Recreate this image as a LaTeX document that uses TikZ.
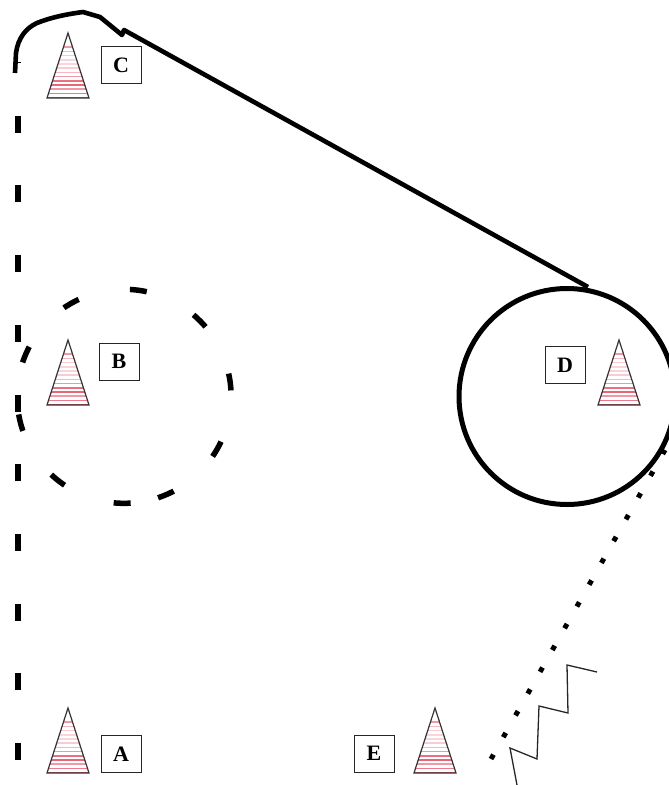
\documentclass[tikz,border=0pt]{standalone}
\usepackage{fontspec}
\setmainfont{Liberation Serif}
\definecolor{hatchred}{RGB}{225,50,75}
\tikzset{
  labelbox/.style={draw=black!85,line width=1pt,fill=white,inner sep=0pt,minimum width=40pt,minimum height=37pt,font=\fontsize{22}{24}\selectfont\bfseries},
  conefill/.style={draw=hatchred,line width=1.6pt},
  coneedge/.style={draw=black!80,line width=1.2pt,line join=miter},
  solidlink/.style={draw=black,line width=4.6pt,line join=round},
  dashlink/.style={draw=black,line width=5.5pt,dash pattern=on 17pt off 52.7pt},
  dotlink/.style={draw=black,line width=5pt,dash pattern=on 5pt off 20pt},
  zigzag/.style={draw=black!85,line width=1.3pt,line join=miter},
}
\newcommand{\conemark}[3]{%
  \coordinate (#1) at (#2,#3);
  \begin{scope}
    \clip (#2,#3) -- ++(-21,65) -- ++(42,0) -- cycle;
    \foreach \k/\o in {1/0.5,2/0.35,3/0.25,4/0.2,5/0.2,6/0.25,7/0.35,8/0.5,9/0.7,10/0.75,11/0.5,12/0.65,13/0.8}{\draw[conefill,opacity=\o] (#2-22,{#3+10+4.2*\k}) -- (#2+22,{#3+10+4.2*\k});}
  \end{scope}
  \draw[coneedge] (#2,#3) -- ++(-21,65) -- ++(42,0) -- cycle;
}
\begin{document}
\begin{tikzpicture}[x=1pt,y=-1pt]
\useasboundingbox (0,0) rectangle (669,785);
\clip (0,0) rectangle (669,785);
\conemark{coneC}{68}{33}
\conemark{coneB}{68}{340}
\conemark{coneD}{619}{340}
\conemark{coneA}{68}{708}
\conemark{coneE}{435}{708}
\node[labelbox] (C) at (121,65) {C};
\node[labelbox] (B) at (119,361.5) {B};
\node[labelbox] (D) at (565,365) {D};
\node[labelbox] (A) at (121,754) {A};
\node[labelbox] (E) at (374,753.5) {E};
% A to C dashed
\coordinate (ac1) at (18,760);
\coordinate (ac2) at (18,62);
\draw[dashlink] (ac1) -- (ac2);
% loop round B
\node[circle,minimum size=214pt,inner sep=0pt,outer sep=0pt] (loopB) at (125,396) {};
\draw[line width=5.5pt,draw=black,dash pattern=on 17pt off 52.7pt] (loopB.288.5) arc[start angle=288.5,delta angle=360,radius=107pt];
% C to D
\coordinate (cd0) at (15,73);
\coordinate (cd1) at (16,53);
\coordinate (cd2) at (37,23);
\coordinate (cd3) at (83,12);
\coordinate (cd4) at (100,17);
\coordinate (cd5) at (122,35);
\coordinate (cd6) at (124,30);
\coordinate (cd7) at (588,287);
\draw[solidlink] (cd0) -- (cd1) .. controls (18,38) and (26,28) .. (cd2) .. controls (52,17) and (68,14) .. (cd3) -- (cd4) -- (cd5) -- (cd6) -- (cd7);
% loop round D
\node[circle,draw=black,line width=5pt,minimum size=216pt,inner sep=0pt,outer sep=0pt] (loopD) at (567,396.5) {};
% D to E dotted
\coordinate (de1) at (491,759);
\coordinate (de2) at (665,450);
\draw[dotlink] (de1) -- (de2);
% zigzag
\coordinate (z0) at (517,785);
\coordinate (z1) at (510,748);
\coordinate (z2) at (537,759);
\coordinate (z3) at (539,706);
\coordinate (z4) at (568,713);
\coordinate (z5) at (567,665);
\coordinate (z6) at (597,672);
\draw[zigzag] (z0) -- (z1) -- (z2) -- (z3) -- (z4) -- (z5) -- (z6);
\end{tikzpicture}
\end{document}
